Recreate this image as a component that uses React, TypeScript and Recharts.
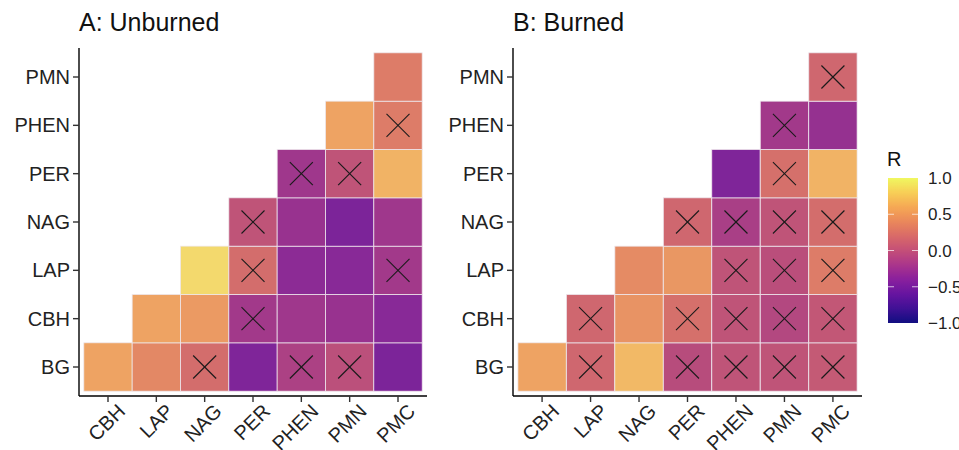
import React from 'react'
import { ScatterChart, Scatter, XAxis, YAxis } from 'recharts'

// variables on each axis
const xVars = ['CBH', 'LAP', 'NAG', 'PER', 'PHEN', 'PMN', 'PMC']
const yVars = ['BG', 'CBH', 'LAP', 'NAG', 'PER', 'PHEN', 'PMN']

// R values, one row per y variable (bottom to top), null = no tile
const unburnedR: (number | null)[][] = [
  [0.55, 0.38, 0.2, -0.44, -0.15, -0.03, -0.46],
  [null, 0.55, 0.5, -0.22, -0.24, -0.28, -0.38],
  [null, null, 0.85, 0.2, -0.36, -0.38, -0.22],
  [null, null, null, 0.0, -0.28, -0.46, -0.24],
  [null, null, null, null, -0.24, 0.0, 0.65],
  [null, null, null, null, null, 0.55, 0.3],
  [null, null, null, null, null, null, 0.3],
]
// 1 = not significant (crossed)
const unburnedNs: number[][] = [
  [0, 0, 1, 0, 1, 1, 0],
  [0, 0, 0, 1, 0, 0, 0],
  [0, 0, 0, 1, 0, 0, 1],
  [0, 0, 0, 1, 0, 0, 0],
  [0, 0, 0, 0, 1, 1, 0],
  [0, 0, 0, 0, 0, 0, 1],
  [0, 0, 0, 0, 0, 0, 0],
]

const burnedR: (number | null)[][] = [
  [0.55, 0.15, 0.68, -0.06, 0.0, 0.0, 0.05],
  [null, 0.15, 0.45, 0.22, 0.0, -0.1, 0.03],
  [null, null, 0.4, 0.48, 0.0, -0.04, 0.3],
  [null, null, null, 0.15, -0.17, 0.0, 0.2],
  [null, null, null, null, -0.44, 0.22, 0.65],
  [null, null, null, null, null, -0.22, -0.3],
  [null, null, null, null, null, null, 0.15],
]
const burnedNs: number[][] = [
  [0, 1, 0, 1, 1, 1, 1],
  [0, 1, 0, 1, 1, 1, 1],
  [0, 0, 0, 0, 1, 1, 1],
  [0, 0, 0, 1, 1, 1, 1],
  [0, 0, 0, 0, 0, 1, 0],
  [0, 0, 0, 0, 0, 1, 0],
  [0, 0, 0, 0, 0, 0, 1],
]

const legendTicks = [1.0, 0.5, 0.0, -0.5, -1.0]

const plasma = [
  '#0d0887', '#41049d', '#6a00a8', '#8f0da4', '#b12a90', '#cc4778',
  '#e16462', '#f2844b', '#fca636', '#fcce25', '#f0f921',
]

function hexToRgb(h: string) {
  const n = parseInt(h.slice(1), 16)
  return [(n >> 16) & 255, (n >> 8) & 255, n & 255]
}

function plasmaColor(r: number) {
  const t = Math.max(0, Math.min(1, (r + 1) / 2)) * (plasma.length - 1)
  const i = Math.min(Math.floor(t), plasma.length - 2)
  const f = t - i
  const a = hexToRgb(plasma[i])
  const b = hexToRgb(plasma[i + 1])
  const c = a.map((v, k) => Math.round(v + (b[k] - v) * f))
  return `rgb(${c[0]},${c[1]},${c[2]})`
}

function toPoints(R: (number | null)[][], ns: number[][]) {
  const pts: { x: number; y: number; r: number; ns: number }[] = []
  R.forEach((row, i) =>
    row.forEach((v, j) => {
      if (v !== null) pts.push({ x: j + 1, y: i + 1, r: v, ns: ns[i][j] })
    })
  )
  return pts
}

const FONT = '"Liberation Sans", Arial, Helvetica, sans-serif'
const CELL = 348 / 7.2

function Tile(props: any) {
  const { cx, cy, payload } = props
  const h = CELL / 2
  const k = 11.5
  return (
    <g>
      <rect
        x={cx - h}
        y={cy - h}
        width={CELL}
        height={CELL}
        fill={plasmaColor(payload.r)}
        filter="url(#mute)"
        stroke="#f0e6ee"
        strokeWidth={0.8}
      />
      {payload.ns ? (
        <g stroke="#1a1a1a" strokeWidth={1.1}>
          <line x1={cx - k} y1={cy - k} x2={cx + k} y2={cy + k} />
          <line x1={cx - k} y1={cy + k} x2={cx + k} y2={cy - k} />
        </g>
      ) : null}
    </g>
  )
}

function XTick(props: any) {
  const { x, y, payload } = props
  return (
    <text
      transform={`translate(${x},${y}) rotate(-45)`}
      textAnchor="end"
      dy={19}
      dx={7}
      fontSize={20}
      fontFamily={FONT}
      fill="#222"
    >
      {xVars[payload.value - 1]}
    </text>
  )
}

function Panel({ R, ns, left, margin }: any) {
  return (
    <div style={{ position: 'absolute', left, top: 0 }}>
      <ScatterChart width={440} height={450} margin={margin}>
        <defs>
          <filter id="mute">
            <feColorMatrix type="saturate" values="0.8" />
          </filter>
        </defs>
        <XAxis
          type="number"
          dataKey="x"
          domain={[0.4, 7.6]}
          ticks={[1, 2, 3, 4, 5, 6, 7]}
          interval={0}
          height={50}
          tickSize={6}
          tickMargin={2}
          tick={<XTick />}
          axisLine={{ stroke: '#000', strokeWidth: 1.4 }}
          tickLine={{ stroke: '#333', strokeWidth: 1.4 }}
        />
        <YAxis
          type="number"
          dataKey="y"
          domain={[0.4, 7.6]}
          ticks={[1, 2, 3, 4, 5, 6, 7]}
          interval={0}
          width={60}
          tickSize={6}
          tickMargin={3}
          tickFormatter={(v: number) => yVars[v - 1]}
          tick={{ fontSize: 20, fill: '#222', fontFamily: FONT }}
          axisLine={{ stroke: '#000', strokeWidth: 1.4 }}
          tickLine={{ stroke: '#333', strokeWidth: 1.4 }}
        />
        <Scatter data={toPoints(R, ns)} shape={<Tile />} isAnimationActive={false} />
      </ScatterChart>
    </div>
  )
}

function Legend() {
  const top = 178
  const bottom = 323
  const scaleY = (v: number) => top + ((1 - v) / 2) * (bottom - top)
  return (
    <svg width={959} height={450} style={{ position: 'absolute', left: 0, top: 0, pointerEvents: 'none' }}>
      <text x={79} y={31} fontSize={25} fontFamily={FONT} fill="#111">A: Unburned</text>
      <text x={513} y={31} fontSize={25} fontFamily={FONT} fill="#111">B: Burned</text>
      <defs>
        <linearGradient id="plasmaGrad" x1="0" y1="1" x2="0" y2="0">
          {plasma.map((c, i) => (
            <stop key={i} offset={`${(i / (plasma.length - 1)) * 100}%`} stopColor={c} />
          ))}
        </linearGradient>
        <filter id="muteLegend">
          <feColorMatrix type="saturate" values="0.88" />
        </filter>
      </defs>
      <text x={887} y={166} fontSize={20} fontFamily={FONT} fill="#111">R</text>
      <rect x={888} y={top} width={30} height={bottom - top} fill="url(#plasmaGrad)" filter="url(#muteLegend)" />
      {legendTicks.map((v) => (
        <g key={v}>
          {Math.abs(v) < 1 ? (
            <g stroke="#ffffff" strokeOpacity={0.7} strokeWidth={1}>
              <line x1={888} x2={894} y1={scaleY(v)} y2={scaleY(v)} />
              <line x1={912} x2={918} y1={scaleY(v)} y2={scaleY(v)} />
            </g>
          ) : null}
          <text x={928} y={scaleY(v) + 6} fontSize={17} fontFamily={FONT} fill="#222">
            {v < 0 ? '\u2212' + Math.abs(v).toFixed(1) : v.toFixed(1)}
          </text>
        </g>
      ))}
    </svg>
  )
}

export default function App() {
  return (
    <div style={{ position: 'absolute', left: 0, top: 0, width: 959, height: 450, background: '#fff', overflow: 'hidden' }}>
      <Panel R={unburnedR} ns={unburnedNs} left={0} margin={{ top: 48, right: 13, bottom: 4, left: 19 }} />
      <Panel R={burnedR} ns={burnedNs} left={440} margin={{ top: 48, right: 18, bottom: 4, left: 13 }} />
      <Legend />
    </div>
  )
}
